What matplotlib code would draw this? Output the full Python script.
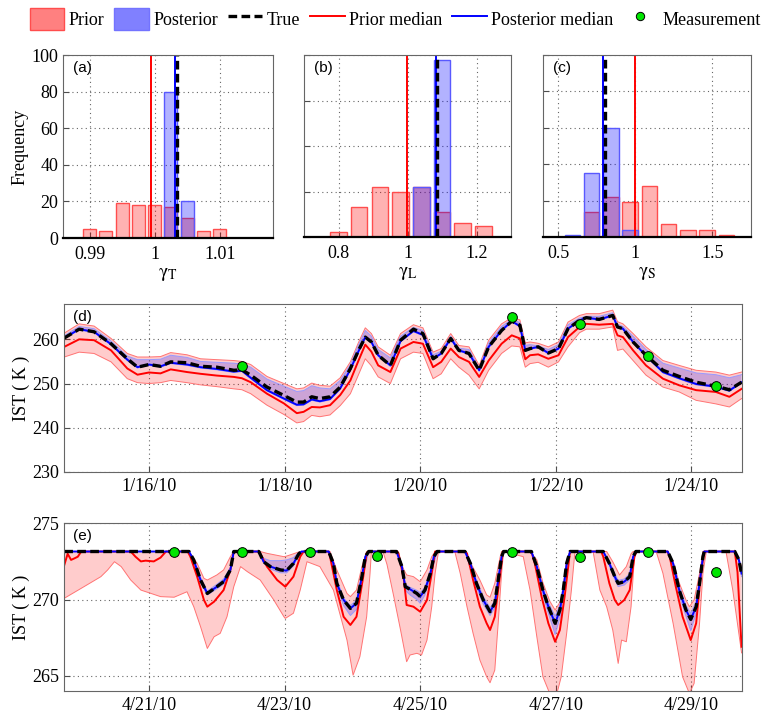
import numpy as np
import matplotlib
matplotlib.use('Agg')
import matplotlib.pyplot as plt
from matplotlib.patches import Patch
from matplotlib.lines import Line2D

plt.rcParams['font.family'] = 'serif'
plt.rcParams['font.serif'] = ['Liberation Serif', 'DejaVu Serif']
plt.rcParams['mathtext.fontset'] = 'stix'
plt.rcParams['font.size'] = 13

# ---------------- histogram data ----------------
a_centers = [0.99, 0.9925, 0.995, 0.9975, 1.0, 1.0025, 1.005, 1.0075, 1.01]
a_prior = [5, 4, 19, 18, 18, 17, 11, 4, 5]
a_post = [0, 0, 0, 0, 0, 80, 20, 0, 0]
a_lines = [0.9994, 1.0031, 1.0035]   # prior median, posterior median, true

b_centers = [0.80, 0.86, 0.92, 0.98, 1.04, 1.10, 1.16, 1.22]
b_prior = [2, 13, 22, 20, 22, 11, 6, 5]
b_post = [0, 0, 0, 0, 22, 78, 0, 0]
b_lines = [0.9995, 1.082, 1.086]

c_centers = [0.59, 0.715, 0.84, 0.965, 1.09, 1.215, 1.34, 1.465, 1.59]
c_prior = [0, 14, 22, 19, 28, 7, 4, 4, 1]
c_post = [1, 35, 60, 4, 0, 0, 0, 0, 0]
c_lines = [0.994, 0.792, 0.803]

# ---------------- panel (d): January 2010, day of month ----------------
t_d = [14.75, 14.97, 15.19, 15.44, 15.68, 15.83, 16.00, 16.17, 16.32, 16.56,
       16.76, 17.00, 17.25, 17.37, 17.50, 17.74, 17.99, 18.18, 18.28, 18.40,
       18.52, 18.67, 18.82, 18.97, 19.09, 19.19, 19.28, 19.38, 19.56, 19.71,
       19.90, 20.04, 20.19, 20.31, 20.45, 20.57, 20.72, 20.87, 21.01, 21.20,
       21.35, 21.47, 21.55, 21.62, 21.74, 21.89, 22.04, 22.18, 22.35, 22.45,
       22.64, 22.84, 22.91, 22.99, 23.14, 23.33, 23.58, 23.82, 24.07, 24.36,
       24.56, 24.74]
true_d = [260.3, 262.3, 261.7, 259.0, 255.6, 253.7, 254.3, 253.9, 254.9, 254.7,
          253.9, 253.7, 253.0, 253.1, 251.9, 249.2, 247.3, 245.8, 245.8, 247.0,
          246.6, 247.0, 249.2, 253.4, 257.5, 260.5, 259.4, 256.4, 254.1, 259.8,
          262.3, 261.3, 255.6, 256.8, 260.2, 257.5, 256.8, 253.0, 258.3, 262.0,
          264.1, 263.2, 257.5, 257.9, 258.3, 256.9, 257.9, 262.4, 264.3, 264.9,
          264.5, 265.4, 262.8, 262.4, 259.4, 256.4, 253.0, 251.6, 250.3, 249.4,
          248.6, 250.3]
post_med_d = [260.3, 262.3, 261.7, 258.9, 255.4, 253.7, 254.3, 253.9, 254.7, 254.3,
              253.7, 253.3, 252.7, 252.9, 251.3, 248.5, 246.6, 245.2, 245.3, 246.4,
              246.0, 246.5, 248.9, 253.2, 257.3, 260.5, 259.4, 256.4, 254.1, 259.6,
              261.9, 261.0, 255.6, 256.8, 260.2, 257.5, 256.8, 253.0, 258.3, 262.0,
              264.1, 263.0, 257.5, 257.9, 258.3, 256.9, 257.9, 262.4, 264.3, 264.9,
              264.5, 265.4, 262.8, 262.4, 259.4, 256.3, 252.6, 251.2, 249.9, 249.3,
              248.4, 250.3]
post_lo_d = [260.1, 262.1, 261.5, 258.7, 255.2, 253.5, 254.1, 253.7, 254.5, 254.1,
             253.5, 253.1, 252.5, 252.7, 251.1, 248.3, 246.4, 245.0, 245.1, 246.2,
             245.8, 246.3, 248.7, 253.0, 257.1, 260.3, 259.2, 256.2, 253.9, 259.4,
             261.7, 260.8, 255.4, 256.6, 260.0, 257.3, 256.6, 252.8, 258.1, 261.8,
             263.9, 262.8, 257.3, 257.7, 258.1, 256.7, 257.7, 262.2, 264.1, 264.7,
             264.3, 265.2, 262.6, 262.2, 259.2, 256.1, 252.4, 251.0, 249.7, 249.1,
             248.2, 250.1]
post_hi_d = [260.8, 262.9, 262.4, 259.6, 256.2, 255.4, 255.4, 255.5, 256.4, 255.9,
             255.0, 254.8, 254.6, 254.4, 253.7, 251.0, 249.4, 248.2, 248.4, 249.5,
             249.0, 248.8, 250.7, 254.3, 258.7, 262.0, 260.7, 257.7, 255.8, 260.7,
             262.7, 262.0, 256.5, 257.3, 260.7, 258.0, 257.7, 253.5, 259.2, 262.9,
             264.5, 263.8, 258.6, 258.8, 258.5, 257.7, 258.8, 263.3, 264.8, 265.2,
             265.2, 266.0, 263.4, 262.9, 260.7, 257.7, 254.6, 253.5, 252.4, 252.0,
             251.3, 252.0]
prior_med_d = [258.3, 260.0, 259.8, 257.5, 253.4, 252.0, 252.5, 252.3, 253.2, 252.6,
               252.2, 251.8, 251.5, 251.2, 250.3, 247.7, 245.5, 243.3, 243.6, 244.7,
               244.6, 245.1, 247.4, 250.7, 255.2, 258.8, 257.2, 254.1, 252.6, 257.9,
               259.4, 259.0, 253.7, 254.9, 257.9, 256.0, 254.9, 251.5, 255.2, 259.0,
               260.9, 260.2, 255.5, 256.4, 256.6, 255.6, 256.4, 260.5, 262.8, 263.5,
               263.3, 263.5, 260.9, 260.5, 257.5, 254.1, 251.1, 249.6, 248.5, 248.1,
               247.0, 248.8]
prior_lo_d = [256.0, 257.1, 256.8, 254.9, 251.1, 250.2, 250.0, 250.2, 250.7, 250.2,
              249.7, 249.3, 248.8, 248.6, 247.7, 245.1, 243.0, 241.1, 241.4, 242.8,
              242.5, 242.9, 245.0, 247.7, 252.0, 255.6, 254.0, 251.5, 250.0, 255.6,
              257.1, 256.8, 251.1, 252.2, 255.6, 253.7, 251.9, 248.8, 253.0, 256.8,
              258.5, 258.3, 253.7, 254.5, 254.8, 253.7, 254.9, 258.3, 261.5, 262.3,
              262.3, 262.8, 257.5, 257.8, 255.2, 251.9, 249.2, 248.1, 246.2, 245.4,
              244.7, 246.6]
prior_hi_d = [261.4, 263.5, 263.0, 260.2, 256.8, 256.0, 256.0, 256.1, 257.0, 256.5,
              255.6, 255.4, 255.2, 255.0, 254.3, 251.6, 250.0, 248.8, 249.0, 250.1,
              249.6, 249.4, 251.3, 254.9, 259.3, 262.6, 261.3, 258.3, 256.4, 261.3,
              263.3, 262.6, 257.1, 257.9, 261.3, 258.6, 258.3, 254.1, 259.8, 263.5,
              264.9, 264.4, 259.2, 259.4, 259.1, 258.3, 259.4, 263.9, 265.4, 265.8,
              265.8, 266.6, 264.0, 263.5, 261.3, 258.3, 255.2, 254.1, 253.0, 252.6,
              251.9, 252.6]
meas_d_t = [17.37, 21.36, 22.36, 23.36, 24.36]
meas_d_v = [254.0, 265.1, 263.4, 256.3, 249.4]

# ---------------- panel (e): April 2010, day of month ----------------
true_e_t = [19.75, 21.59, 21.66, 21.76, 21.86, 22.00, 22.10, 22.20, 22.25,
            22.62, 22.69, 22.79, 22.94, 23.03, 23.13, 23.21, 23.25,
            23.65, 23.72, 23.77, 23.87, 23.97, 24.06, 24.14, 24.19, 24.24,
            24.65, 24.73, 24.78, 24.85, 24.95, 25.00, 25.07, 25.15, 25.20, 25.25,
            25.66, 25.74, 25.83, 25.93, 26.03, 26.10, 26.15, 26.20, 26.23,
            26.64, 26.72, 26.81, 26.89, 26.99, 27.06, 27.11, 27.16, 27.21,
            27.70, 27.79, 27.87, 27.92, 28.01, 28.09, 28.14, 28.18,
            28.65, 28.73, 28.82, 28.92, 28.99, 29.07, 29.12, 29.17, 29.19,
            29.64, 29.70, 29.74]
true_e_v = [273.15, 273.15, 272.59, 271.28, 270.40, 270.84, 271.17, 271.94, 273.15,
            273.15, 272.48, 272.16, 271.94, 271.90, 272.37, 273.00, 273.15,
            273.15, 272.37, 271.06, 269.97, 269.42, 269.75, 271.50, 272.81, 273.15,
            273.15, 272.16, 270.84, 270.67, 270.40, 270.19, 270.62, 271.72, 272.81, 273.15,
            273.15, 272.37, 271.06, 269.97, 269.20, 269.75, 271.28, 272.81, 273.15,
            273.15, 272.16, 270.62, 269.53, 268.44, 269.31, 270.62, 272.37, 273.15,
            273.15, 272.37, 271.50, 271.06, 271.17, 271.50, 272.81, 273.15,
            273.15, 272.37, 270.62, 269.31, 268.70, 269.53, 271.06, 272.81, 273.15,
            273.15, 272.60, 271.70]
# posterior median lies on the true curve in this period
post_med_e_t = true_e_t
post_med_e_v = true_e_v

post_e_t = [19.75, 21.59, 21.76, 21.86, 22.00, 22.10, 22.20, 22.25,
            22.62, 22.69, 22.79, 22.94, 23.03, 23.13, 23.21, 23.25,
            23.65, 23.77, 23.87, 23.97, 24.06, 24.14, 24.24,
            24.65, 24.73, 24.78, 24.85, 24.95, 25.00, 25.07, 25.15, 25.25,
            25.66, 25.83, 25.93, 26.03, 26.10, 26.15, 26.23,
            26.64, 26.72, 26.81, 26.89, 26.99, 27.06, 27.11, 27.21,
            27.70, 27.79, 27.87, 27.92, 28.01, 28.09, 28.18,
            28.65, 28.73, 28.82, 28.92, 28.99, 29.07, 29.12, 29.19,
            29.64, 29.70, 29.74]
post_lo_e = [273.15, 273.15, 271.1, 270.3, 270.7, 271.0, 271.8, 273.15,
             273.15, 272.4, 272.0, 271.75, 271.75, 272.2, 272.9, 273.15,
             273.15, 270.9, 269.6, 268.95, 269.35, 271.3, 273.15,
             273.15, 272.0, 270.6, 270.3, 270.0, 269.75, 270.3, 271.5, 273.15,
             273.15, 270.8, 269.7, 268.95, 269.45, 271.0, 273.15,
             273.15, 272.0, 270.3, 269.1, 267.7, 268.8, 270.3, 273.15,
             273.15, 272.2, 271.3, 270.85, 270.95, 271.3, 273.15,
             273.15, 272.2, 270.3, 268.9, 267.95, 269.1, 270.8, 273.15,
             273.15, 272.5, 271.5]
post_hi_e = [273.15, 273.15, 271.45, 270.55, 271.0, 271.35, 272.1, 273.15,
             273.15, 272.7, 272.55, 272.55, 272.6, 272.75, 273.1, 273.15,
             273.15, 271.3, 270.1, 269.6, 269.95, 271.7, 273.15,
             273.15, 272.3, 271.0, 270.8, 270.6, 270.45, 270.8, 271.9, 273.15,
             273.15, 271.25, 270.2, 269.45, 269.95, 271.45, 273.15,
             273.15, 272.3, 270.8, 269.8, 268.9, 269.6, 270.9, 273.15,
             273.15, 272.5, 271.7, 271.25, 271.35, 271.7, 273.15,
             273.15, 272.5, 270.85, 269.6, 269.1, 269.85, 271.3, 273.15,
             273.15, 272.8, 271.9]

prior_med_e_t = [19.75, 19.80, 19.85, 19.90, 19.95, 20.00, 20.73, 20.80, 20.88, 20.95, 21.07, 21.17, 21.25,
                 21.57, 21.61, 21.71, 21.81, 21.86, 21.96, 22.10, 22.20, 22.25,
                 22.62, 22.64, 22.74, 22.89, 23.01, 23.13, 23.23, 23.28,
                 23.65, 23.67, 23.77, 23.87, 23.97, 24.06, 24.16, 24.21, 24.24,
                 24.66, 24.68, 24.76, 24.80, 24.90, 25.00, 25.10, 25.17, 25.22,
                 25.66, 25.69, 25.78, 25.88, 25.98, 26.03, 26.10, 26.18, 26.22,
                 26.64, 26.69, 26.79, 26.89, 26.99, 27.06, 27.13, 27.21,
                 27.67, 27.70, 27.79, 27.87, 27.92, 28.01, 28.09, 28.16, 28.19,
                 28.65, 28.68, 28.77, 28.87, 28.99, 29.07, 29.14, 29.19,
                 29.64, 29.68, 29.74]
prior_med_e_v = [272.26, 273.00, 272.60, 272.70, 272.81, 273.15, 273.15, 272.81, 272.50, 272.55, 272.50, 272.75, 273.15,
                 273.15, 272.81, 271.50, 269.97, 269.53, 269.86, 270.62, 271.94, 273.15,
                 273.15, 273.03, 272.16, 271.28, 270.84, 271.50, 272.81, 273.15,
                 273.15, 272.81, 270.62, 268.87, 268.33, 268.87, 271.50, 273.03, 273.15,
                 273.15, 273.03, 271.28, 269.64, 269.53, 269.20, 269.97, 271.72, 273.15,
                 273.15, 273.03, 271.28, 269.53, 268.44, 268.00, 268.87, 271.72, 273.15,
                 273.15, 272.37, 270.19, 268.44, 267.23, 268.00, 270.19, 273.15,
                 273.15, 272.81, 271.06, 269.97, 269.64, 269.97, 270.62, 272.81, 273.15,
                 273.15, 272.81, 270.84, 268.87, 267.34, 268.44, 271.72, 273.15,
                 273.15, 271.80, 266.90]

prior_hi_e_t = [19.75, 21.59, 21.71, 21.81, 21.86, 22.00, 22.10, 22.20, 22.25,
                22.64, 22.74, 22.99, 23.03, 23.23,
                23.67, 23.77, 23.92, 23.97, 24.06, 24.14, 24.21,
                24.66, 24.76, 24.80, 24.90, 25.00, 25.10, 25.17, 25.22,
                25.66, 25.78, 25.88, 25.98, 26.03, 26.10, 26.18, 26.20,
                26.62, 26.72, 26.81, 26.91, 26.99, 27.08, 27.16, 27.21,
                27.75, 27.84, 27.94, 28.04, 28.11, 28.14,
                28.63, 28.73, 28.82, 28.92, 28.97, 29.04, 29.12, 29.17,
                29.64, 29.74]
prior_hi_e_v = [273.15, 273.15, 272.37, 271.39, 271.28, 271.61, 271.94, 272.81, 273.15,
                273.15, 273.03, 272.81, 272.85, 273.15,
                273.15, 271.94, 270.40, 270.19, 270.62, 272.16, 273.15,
                273.15, 271.94, 271.61, 271.50, 271.17, 271.94, 272.81, 273.15,
                273.15, 272.10, 271.28, 270.30, 270.15, 271.06, 272.81, 273.15,
                273.15, 272.60, 271.10, 269.90, 269.31, 269.97, 272.60, 273.15,
                273.15, 272.48, 271.61, 272.16, 273.00, 273.15,
                273.15, 272.50, 271.10, 269.97, 269.53, 269.97, 271.72, 273.15,
                273.15, 272.20]

prior_lo_e_t = [19.75, 20.04, 20.29, 20.39, 20.49, 20.59, 20.73, 20.88, 21.17, 21.37, 21.56,
                21.66, 21.76, 21.86, 21.96, 22.05, 22.15, 22.25, 22.35, 22.45, 22.64, 22.84, 22.99, 23.01,
                23.13, 23.23, 23.33, 23.52, 23.72, 23.92, 24.01, 24.11, 24.21, 24.26, 24.28,
                24.45, 24.51, 24.61, 24.71, 24.80, 24.85, 24.95, 25.02, 25.10, 25.17, 25.22, 25.27,
                25.51, 25.59, 25.69, 25.78, 25.88, 25.98, 26.03, 26.10, 26.15, 26.20, 26.23,
                26.52, 26.62, 26.72, 26.81, 26.91, 27.01, 27.08, 27.16, 27.23, 27.28, 27.30,
                27.55, 27.65, 27.75, 27.84, 27.92, 27.97, 28.04, 28.11, 28.16, 28.19,
                28.48, 28.58, 28.73, 28.87, 28.97, 29.04, 29.12, 29.17, 29.22,
                29.51, 29.61, 29.74]
prior_lo_e_v = [270.08, 270.84, 271.50, 271.94, 272.48, 272.16, 271.28, 270.62, 270.19, 270.15, 270.51,
                269.53, 268.22, 266.79, 267.56, 267.78, 268.87, 270.84, 272.16, 271.83, 271.28, 269.97, 268.87, 268.76,
                269.10, 270.62, 272.48, 272.16, 270.62, 267.34, 265.04, 266.25, 268.87, 271.72, 273.15,
                273.15, 272.30, 270.20, 268.00, 265.92, 266.36, 266.47, 266.36, 267.34, 269.53, 271.72, 273.15,
                273.15, 271.72, 269.53, 267.78, 266.03, 264.93, 264.54, 265.37, 268.44, 271.72, 273.15,
                272.81, 270.62, 267.56, 264.93, 263.84, 263.73, 264.93, 267.78, 270.62, 273.03, 273.15,
                273.15, 270.62, 269.53, 268.00, 265.81, 267.34, 267.23, 269.53, 272.81, 273.15,
                273.15, 271.72, 268.44, 264.93, 263.84, 264.50, 268.44, 271.72, 273.15,
                273.15, 270.62, 266.50]
meas_e_t = [21.37, 22.37, 23.37, 24.37, 26.36, 27.36, 28.36, 29.36]
meas_e_v = [273.15, 273.15, 273.15, 272.85, 273.15, 272.80, 273.15, 271.80]

# ---------------- colours ----------------
RED = (1.0, 0.0, 0.0)
BLUE = (0.0, 0.0, 1.0)
prior_face = (1.0, 0.0, 0.0, 0.3)
prior_edge = (1.0, 0.3, 0.3)
post_face = (0.0, 0.0, 1.0, 0.3)
post_edge = (0.35, 0.35, 1.0)
true_dash = (2.6, 1.3)

fig = plt.figure(figsize=(7.66, 7.15), dpi=100)


def style(ax):
    for s in ax.spines.values():
        s.set_color('0.4')
        s.set_linewidth(0.8)
    ax.tick_params(direction='in', length=4, width=0.8, color='0.3', labelsize=13)
    ax.grid(True, linestyle=(0, (1, 3)), color='0.4', linewidth=0.8)
    ax.set_axisbelow(True)


def hist_panel(rect, centers, prior, post, width, lines, xlim, xticks, xticklabels,
               ylim, yticks, label, xlabel, show_y):
    ax = fig.add_axes(rect)
    style(ax)
    ax.bar(centers, prior, width=width, color=prior_face, edgecolor=prior_edge, linewidth=1.0)
    ax.bar(centers, post, width=width, color=post_face, edgecolor=post_edge, linewidth=1.0)
    ax.axvline(lines[0], color=RED, lw=1.4)
    ax.axvline(lines[1], color=BLUE, lw=1.4)
    ax.axvline(lines[2], color='k', lw=2.4, dashes=true_dash)
    ax.set_xlim(xlim)
    ax.set_ylim(ylim)
    ax.set_xticks(xticks)
    ax.set_xticklabels(xticklabels)
    ax.tick_params(axis='x', pad=6)
    ax.set_yticks(yticks)
    if show_y:
        ax.set_ylabel('Frequency', fontsize=13, labelpad=2)
    else:
        ax.set_yticklabels([])
    ax.spines['bottom'].set_color('k')
    ax.spines['bottom'].set_linewidth(1.6)
    ax.set_xlabel(xlabel, fontsize=14, labelpad=2)
    ax.text(0.05, 0.965, label, transform=ax.transAxes, ha='left', va='top',
            fontsize=11, family='Liberation Sans')
    return ax


hist_panel([0.0822, 0.6671, 0.2742, 0.2559], a_centers, a_prior, a_post, 0.002, a_lines,
           (0.9859, 1.0182), [0.99, 1.0, 1.01], ['0.99', '1', '1.01'],
           (0, 100), [0, 20, 40, 60, 80, 100], '(a)', r'$\mathrm{\gamma}_{\mathrm{T}}$', True)
hist_panel([0.3969, 0.6685, 0.2702, 0.2545], b_centers, b_prior, b_post, 0.048, b_lines,
           (0.7, 1.3), [0.8, 1.0, 1.2], ['0.8', '1', '1.2'],
           (0, 80), [0, 20, 40, 60, 80], '(b)', r'$\mathrm{\gamma}_{\mathrm{L}}$', False)
hist_panel([0.7089, 0.6685, 0.2715, 0.2545], c_centers, c_prior, c_post, 0.1, c_lines,
           (0.4, 1.75), [0.5, 1.0, 1.5], ['0.5', '1', '1.5'],
           (0, 100), [0, 20, 40, 60, 80, 100], '(c)', r'$\mathrm{\gamma}_{\mathrm{S}}$', False)


def series_panel(rect, label):
    ax = fig.add_axes(rect)
    style(ax)
    ax.tick_params(axis='x', pad=4)
    ax.set_ylabel('IST ( K )', fontsize=13, labelpad=2)
    ax.text(0.013, 0.965, label, transform=ax.transAxes, ha='left', va='top',
            fontsize=11, family='Liberation Sans')
    return ax


def band(ax, t_hi, v_hi, t_lo, v_lo, face, edge):
    xs = np.concatenate([t_hi, t_lo[::-1]])
    ys = np.concatenate([v_hi, v_lo[::-1]])
    ax.fill(xs, ys, color=face, lw=0)
    ax.plot(t_hi, v_hi, color=edge, lw=0.7)
    ax.plot(t_lo, v_lo, color=edge, lw=0.7)


# ---- (d)
ax_d = series_panel([0.0839, 0.3399, 0.8851, 0.2350], '(d)')
td = np.array(t_d)
band(ax_d, td, np.array(prior_hi_d), td, np.array(prior_lo_d), (1, 0, 0, 0.2), (1, 0.45, 0.45))
band(ax_d, td, np.array(post_hi_d), td, np.array(post_lo_d), (0, 0, 1, 0.2), (0.6, 0.6, 1.0))
ax_d.plot(td, prior_med_d, color=RED, lw=1.4)
ax_d.plot(td, post_med_d, color=BLUE, lw=1.4)
ax_d.plot(td, true_d, color='k', lw=2.4, dashes=true_dash)
ax_d.plot(meas_d_t, meas_d_v, 'o', ms=7, mfc=(0, 0.9, 0), mec='k', mew=0.7)
ax_d.set_xlim(14.75, 24.75)
ax_d.set_ylim(230, 268)
ax_d.set_yticks([230, 240, 250, 260])
ax_d.set_xticks([16, 18, 20, 22, 24])
ax_d.set_xticklabels(['1/16/10', '1/18/10', '1/20/10', '1/22/10', '1/24/10'])

# ---- (e)
ax_e = series_panel([0.0839, 0.0336, 0.8851, 0.2345], '(e)')
band(ax_e, np.array(prior_hi_e_t), np.array(prior_hi_e_v), np.array(prior_lo_e_t),
     np.array(prior_lo_e_v), (1, 0, 0, 0.2), (1, 0.45, 0.45))
band(ax_e, np.array(post_e_t), np.array(post_hi_e), np.array(post_e_t),
     np.array(post_lo_e), (0, 0, 1, 0.2), (0.6, 0.6, 1.0))
ax_e.plot(prior_med_e_t, prior_med_e_v, color=RED, lw=1.4)
ax_e.plot(post_med_e_t, post_med_e_v, color=BLUE, lw=1.4)
ax_e.plot(true_e_t, true_e_v, color='k', lw=2.4, dashes=true_dash)
ax_e.plot(meas_e_t, meas_e_v, 'o', ms=7, mfc=(0, 0.9, 0), mec='k', mew=0.7, clip_on=False)
ax_e.set_xlim(19.75, 29.75)
ax_e.set_ylim(264, 275)
ax_e.set_yticks([265, 270, 275])
ax_e.set_xticks([21, 23, 25, 27, 29])
ax_e.set_xticklabels(['4/21/10', '4/23/10', '4/25/10', '4/27/10', '4/29/10'])

# ---- legend
handles = [
    Patch(facecolor=(1, 0.5, 0.5), edgecolor=(1, 0.3, 0.3), label='Prior'),
    Patch(facecolor=(0.5, 0.5, 1), edgecolor=(0.45, 0.45, 1), label='Posterior'),
    Line2D([], [], color='k', lw=2.4, dashes=true_dash, label='True'),
    Line2D([], [], color=RED, lw=1.4, label='Prior median'),
    Line2D([], [], color=BLUE, lw=1.4, label='Posterior median'),
    Line2D([], [], ls='none', marker='o', ms=6, mfc=(0, 0.9, 0), mec='k', mew=0.7, label='Measurement'),
]
fig.legend(handles=handles, loc='center left', bbox_to_anchor=(30 / 766, 1 - 19 / 715), ncol=6,
           frameon=False, fontsize=13, handlelength=1.9, handleheight=1.5,
           handletextpad=0.25, columnspacing=0.55, borderaxespad=0, borderpad=0)

fig.savefig('out.png', dpi=100)
